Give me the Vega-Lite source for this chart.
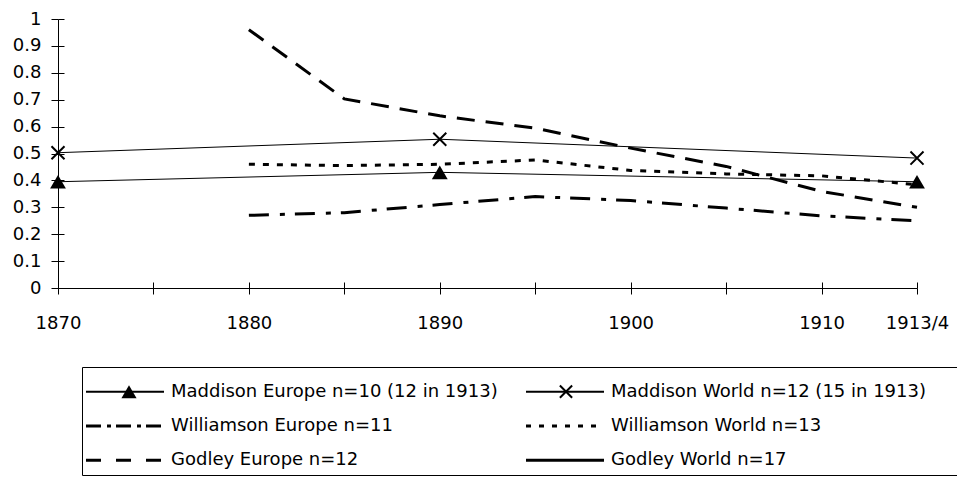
{
  "$schema": "https://vega.github.io/schema/vega-lite/v6.json",
  "background": "white",
  "padding": {"left": 12, "top": 10, "right": 0, "bottom": 0},
  "config": {
    "view": {"stroke": null},
    "font": "DejaVu Sans",
    "axis": {"domainColor": "black", "tickColor": "black", "labelColor": "black", "labelFont": "DejaVu Sans", "labelFontSize": 18, "grid": false, "title": null}
  },
  "spacing": 34,
  "datasets": {
    "series": [
      {"series": "Maddison Europe", "year": "1870", "value": 0.395},
      {"series": "Maddison Europe", "year": "1890", "value": 0.43},
      {"series": "Maddison Europe", "year": "1913/4", "value": 0.395},
      {"series": "Maddison World", "year": "1870", "value": 0.503},
      {"series": "Maddison World", "year": "1890", "value": 0.553},
      {"series": "Maddison World", "year": "1913/4", "value": 0.483},
      {"series": "Williamson Europe", "year": "1880", "value": 0.27},
      {"series": "Williamson Europe", "year": "1885", "value": 0.28},
      {"series": "Williamson Europe", "year": "1890", "value": 0.31},
      {"series": "Williamson Europe", "year": "1895", "value": 0.34},
      {"series": "Williamson Europe", "year": "1900", "value": 0.325},
      {"series": "Williamson Europe", "year": "1905", "value": 0.297},
      {"series": "Williamson Europe", "year": "1910", "value": 0.268},
      {"series": "Williamson Europe", "year": "1913/4", "value": 0.25},
      {"series": "Williamson World", "year": "1880", "value": 0.46},
      {"series": "Williamson World", "year": "1885", "value": 0.455},
      {"series": "Williamson World", "year": "1890", "value": 0.46},
      {"series": "Williamson World", "year": "1895", "value": 0.476},
      {"series": "Williamson World", "year": "1900", "value": 0.437},
      {"series": "Williamson World", "year": "1905", "value": 0.424},
      {"series": "Williamson World", "year": "1910", "value": 0.417},
      {"series": "Williamson World", "year": "1913/4", "value": 0.384},
      {"series": "Godley Europe", "year": "1880", "value": 0.96},
      {"series": "Godley Europe", "year": "1885", "value": 0.703},
      {"series": "Godley Europe", "year": "1890", "value": 0.64},
      {"series": "Godley Europe", "year": "1895", "value": 0.594},
      {"series": "Godley Europe", "year": "1900", "value": 0.52},
      {"series": "Godley Europe", "year": "1905", "value": 0.452},
      {"series": "Godley Europe", "year": "1910", "value": 0.359},
      {"series": "Godley Europe", "year": "1913/4", "value": 0.30}
    ],
    "legend": [
      {"series": "Maddison Europe", "source": "Maddison", "region": "Europe", "label": "Maddison Europe n=10 (12 in 1913)"},
      {"series": "Maddison World", "source": "Maddison", "region": "World", "label": "Maddison World n=12 (15 in 1913)"},
      {"series": "Williamson Europe", "source": "Williamson", "region": "Europe", "label": "Williamson Europe n=11"},
      {"series": "Williamson World", "source": "Williamson", "region": "World", "label": "Williamson World n=13"},
      {"series": "Godley Europe", "source": "Godley", "region": "Europe", "label": "Godley Europe n=12"},
      {"series": "Godley World", "source": "Godley", "region": "World", "label": "Godley World n=17"}
    ]
  },
  "vconcat": [
    {
      "width": 859,
      "height": 269,
      "data": {"name": "series"},
      "layer": [
        {
          "transform": [{"filter": "indexof(datum.series, 'Maddison') == 0"}],
          "mark": {"type": "line", "color": "black", "strokeWidth": 1},
          "encoding": {
            "x": {"field": "year", "type": "ordinal", "scale": {"type": "point", "padding": 0, "domain": ["1870", "1875", "1880", "1885", "1890", "1895", "1900", "1905", "1910", "1913/4"]},
              "axis": {"orient": "bottom", "labelAngle": 0, "tickSize": 6, "labelPadding": 20, "labelOverlap": false,
                "labelExpr": "indexof(['1875','1885','1895','1905'], datum.value) >= 0 ? '' : datum.value"}},
            "y": {"field": "value", "type": "quantitative", "scale": {"domain": [0, 1], "nice": false, "zero": true},
              "axis": {"orient": "left", "values": [0, 0.1, 0.2, 0.3, 0.4, 0.5, 0.6, 0.7, 0.8, 0.9, 1], "format": "~g", "tickSize": 7, "labelPadding": 10}},
            "detail": {"field": "series"}
          }
        },
        {
          "transform": [{"filter": "indexof(datum.series, 'Maddison') < 0"}],
          "mark": {"type": "line", "color": "black", "strokeWidth": 3},
          "encoding": {
            "x": {"field": "year", "type": "ordinal", "axis": {"orient": "bottom", "tickSize": -6, "labels": false, "domain": false}},
            "y": {"field": "value", "type": "quantitative", "axis": {"orient": "left", "values": [0, 0.1, 0.2, 0.3, 0.4, 0.5, 0.6, 0.7, 0.8, 0.9, 1], "tickSize": -6, "labels": false, "domain": false}},
            "strokeDash": {"field": "series", "type": "nominal",
              "scale": {"domain": ["Williamson Europe", "Williamson World", "Godley Europe"], "range": [[20, 11, 5, 10], [6, 8], [18, 11]]},
              "legend": null}
          }
        },
        {
          "transform": [{"filter": "datum.series == 'Maddison Europe'"}],
          "mark": {"type": "point", "shape": "triangle-up", "filled": true, "color": "black", "size": 250, "opacity": 1},
          "encoding": {
            "x": {"field": "year", "type": "ordinal", "axis": null},
            "y": {"field": "value", "type": "quantitative", "axis": null}
          }
        },
        {
          "transform": [{"filter": "datum.series == 'Maddison World'"}],
          "mark": {"type": "point", "shape": "M-1,-1L1,1M-1,1L1,-1", "filled": false, "stroke": "black", "strokeWidth": 2, "size": 170, "opacity": 1},
          "encoding": {
            "x": {"field": "year", "type": "ordinal", "axis": null},
            "y": {"field": "value", "type": "quantitative", "axis": null}
          }
        }
      ],
      "resolve": {"axis": {"x": "independent", "y": "independent"}}
    },
    {
      "spacing": 10,
      "hconcat": [
        {
          "width": 13,
          "height": 108,
          "data": {"values": [{}]},
          "mark": {"type": "text"},
          "encoding": {"text": {"value": ""}}
        },
        {
          "width": 875,
          "height": 108,
          "view": {"stroke": "black", "strokeWidth": 1},
          "data": {"name": "legend"},
          "encoding": {
            "x": {"field": "region", "type": "nominal", "bandPosition": 0,
              "scale": {"type": "band", "domain": ["Europe", "World"], "range": [0, 880], "paddingInner": 0, "paddingOuter": 0}, "axis": null},
            "y": {"field": "source", "type": "nominal",
              "scale": {"type": "point", "domain": ["Maddison", "Williamson", "Godley"], "padding": 0.574, "align": 0.627}, "axis": null}
          },
          "layer": [
            {
              "transform": [{"filter": "indexof(datum.series, 'Maddison') == 0"}],
              "mark": {"type": "rule", "color": "black", "strokeWidth": 2, "xOffset": 4, "x2Offset": -138},
              "encoding": {"x2": {"field": "region"}}
            },
            {
              "transform": [{"filter": "datum.series == 'Godley World'"}],
              "mark": {"type": "rule", "color": "black", "strokeWidth": 3, "xOffset": 4, "x2Offset": -138},
              "encoding": {"x2": {"field": "region"}}
            },
            {
              "transform": [{"filter": "datum.series == 'Williamson Europe'"}],
              "mark": {"type": "rule", "color": "black", "strokeWidth": 3, "xOffset": 4, "x2Offset": -138, "strokeDash": [15, 6, 4, 5]},
              "encoding": {"x2": {"field": "region"}}
            },
            {
              "transform": [{"filter": "datum.series == 'Williamson World'"}],
              "mark": {"type": "rule", "color": "black", "strokeWidth": 3, "xOffset": 4, "x2Offset": -138, "strokeDash": [5, 8]},
              "encoding": {"x2": {"field": "region"}}
            },
            {
              "transform": [{"filter": "datum.series == 'Godley Europe'"}],
              "mark": {"type": "rule", "color": "black", "strokeWidth": 3, "xOffset": 4, "x2Offset": -138, "strokeDash": [15, 15]},
              "encoding": {"x2": {"field": "region"}}
            },
            {
              "transform": [{"filter": "datum.series == 'Maddison Europe'"}],
              "mark": {"type": "point", "shape": "triangle-up", "filled": true, "color": "black", "size": 230, "opacity": 1, "xOffset": 47}
            },
            {
              "transform": [{"filter": "datum.series == 'Maddison World'"}],
              "mark": {"type": "point", "shape": "M-1,-1L1,1M-1,1L1,-1", "filled": false, "stroke": "black", "strokeWidth": 2, "size": 150, "opacity": 1, "xOffset": 44}
            },
            {
              "mark": {"type": "text", "align": "left", "baseline": "middle", "font": "DejaVu Sans", "fontSize": 18, "color": "black", "xOffset": 89},
              "encoding": {"text": {"field": "label"}}
            }
          ]
        }
      ]
    }
  ]
}
